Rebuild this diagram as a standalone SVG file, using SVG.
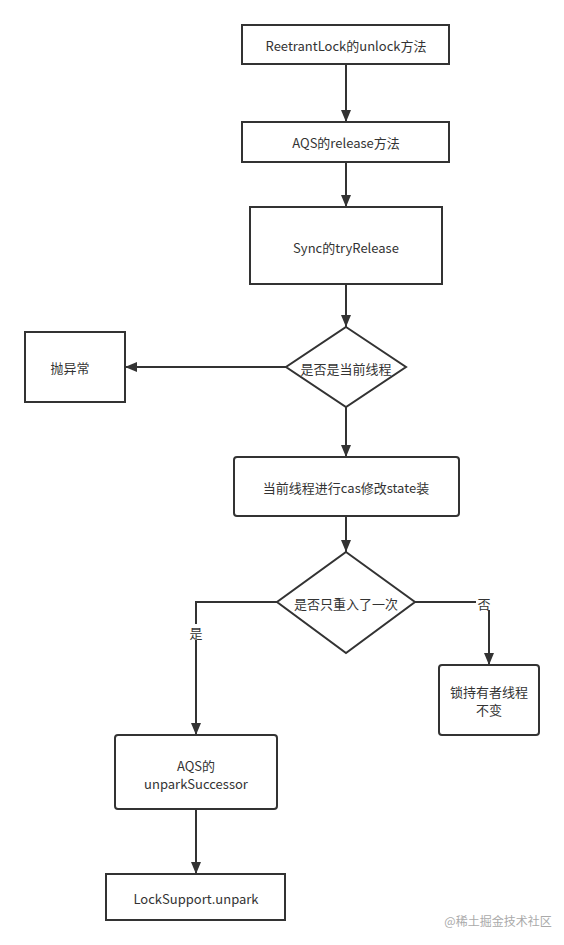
<svg xmlns="http://www.w3.org/2000/svg" width="564" height="945" viewBox="0 0 564 945">
<defs>
<marker id="ah" viewBox="0 0 12 10" refX="12" refY="5" markerWidth="12" markerHeight="10" orient="auto" markerUnits="userSpaceOnUse" overflow="visible">
<path d="M0,0 L12,5 L0,10 Z" fill="#333"/>
</marker>
<style>
.n{fill:#fff;stroke:#333;stroke-width:2}
.t{font-family:"Noto Sans CJK SC","Noto Sans",sans-serif;font-size:13px;fill:#333;text-anchor:middle;dominant-baseline:central}
.c{fill:none;stroke:#333;stroke-width:2;marker-end:url(#ah)}
.l{fill:#fff}
</style>
</defs>
<rect width="564" height="945" fill="#fff"/>
<g id="connectors">
<path class="c" d="M346,64 L346,122"/>
<path class="c" d="M346,162 L346,207"/>
<path class="c" d="M346,284 L346,327"/>
<path class="c" d="M286,367 L125,367"/>
<path class="c" d="M346,407 L346,457"/>
<path class="c" d="M346,516 L346,552"/>
<path class="c" d="M277,602 L196,602 L196,735"/>
<path class="c" d="M415,602 L489,602 L489,665"/>
<path class="c" d="M196,809 L196,874"/>
<rect class="l" x="188" y="624" width="16" height="16"/>
<text class="t" x="196" y="632">是</text>
<rect class="l" x="476" y="595" width="15" height="15"/>
<text class="t" x="484" y="603">否</text>
</g>
<g id="n1"><rect class="n" x="242" y="25" width="207" height="39"/><text class="t" x="346" y="45">ReetrantLock的unlock方法</text></g>
<g id="n2"><rect class="n" x="242" y="122" width="207" height="40"/><text class="t" x="346" y="142">AQS的release方法</text></g>
<g id="n3"><rect class="n" x="250" y="207" width="192" height="77"/><text class="t" x="346" y="247">Sync的tryRelease</text></g>
<g id="d1"><path class="n" d="M346,327 L406,367 L346,407 L286,367 Z"/><text class="t" x="346" y="368">是否是当前线程</text></g>
<g id="n4"><rect class="n" x="25" y="332" width="100" height="70"/><text class="t" x="70" y="367">抛异常</text></g>
<g id="n5"><rect class="n" x="234" y="457" width="225" height="59" rx="3"/><text class="t" x="346" y="487">当前线程进行cas修改state装</text></g>
<g id="d2"><path class="n" d="M346,552 L415,602 L346,653 L277,602 Z"/><text class="t" x="346" y="603">是否只重入了一次</text></g>
<g id="n6"><rect class="n" x="439" y="665" width="100" height="70" rx="3"/><text class="t" x="489" y="691">锁持有者线程</text><text class="t" x="489" y="709">不变</text></g>
<g id="n7"><rect class="n" x="115" y="735" width="162" height="74" rx="3"/><text class="t" x="196" y="765">AQS的</text><text class="t" x="196" y="783">unparkSuccessor</text></g>
<g id="n8"><rect class="n" x="106" y="874" width="179" height="46"/><text class="t" x="196" y="898">LockSupport.unpark</text></g>
<text x="498" y="920" style="font-family:'Noto Sans CJK SC',sans-serif;font-size:12px;fill:#aaa;text-anchor:middle;dominant-baseline:central">@稀土掘金技术社区</text>
</svg>
